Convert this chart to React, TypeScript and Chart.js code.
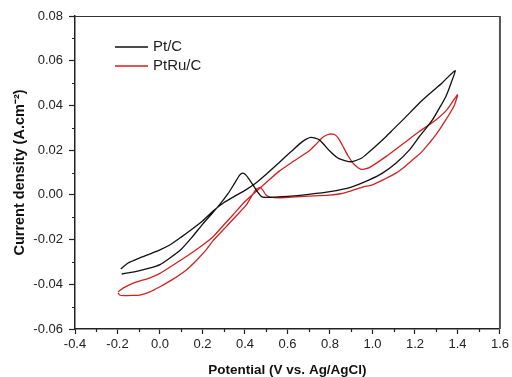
import React, { useEffect, useRef } from 'react';
import { Chart, registerables } from 'chart.js';

Chart.register(...registerables);

const seriesLabels = ['Pt/C', 'PtRu/C'];
const seriesColors = ['#111111', '#d42020'];

const xTitle = 'Potential (V vs. Ag/AgCl)';
const yTitle = 'Current density (A.cm\u207B\u00B2)';

// Pt/C loop (forward then backward)
const ptcX = [
  -0.185, -0.15, -0.1, -0.05, 0.0, 0.05, 0.1, 0.15, 0.2, 0.25, 0.3, 0.35, 0.4, 0.45, 0.5, 0.56, 0.62, 0.67, 0.71, 0.75,
  0.8, 0.84, 0.9, 0.95, 0.985, 1.02, 1.063, 1.1, 1.15, 1.22, 1.27, 1.33, 1.389,
  1.37, 1.345, 1.31, 1.282, 1.25, 1.22, 1.173, 1.11, 1.047, 0.985, 0.9, 0.8, 0.7, 0.6, 0.52, 0.48, 0.46, 0.43, 0.405,
  0.39, 0.375, 0.35, 0.32, 0.28, 0.25, 0.2, 0.15, 0.1, 0.05, 0.0, -0.05, -0.1, -0.15, -0.18,
];
const ptcY = [
  -0.0331, -0.0305, -0.0284, -0.0265, -0.0246, -0.0222, -0.0189, -0.0154, -0.0117, -0.0072, -0.0035, -0.0007, 0.002,
  0.0052, 0.0092, 0.0144, 0.0196, 0.0238, 0.0257, 0.0246, 0.0195, 0.0163, 0.0148, 0.0165, 0.0193, 0.0222, 0.026, 0.0295,
  0.0342, 0.041, 0.0453, 0.0503, 0.0556,
  0.05, 0.0439, 0.038, 0.0335, 0.0295, 0.026, 0.02, 0.0141, 0.0097, 0.0067, 0.0035, 0.0014, 0.0002, -0.0007, -0.0011,
  -0.0009, 0.0012, 0.0055, 0.0088, 0.0097, 0.0088, 0.005, 0.0005, -0.0045, -0.0078, -0.0132, -0.019, -0.0243, -0.028,
  -0.0312, -0.0328, -0.034, -0.0349, -0.0354,
];

// PtRu/C loop (forward then backward)
const ptruX = [
  -0.197, -0.17, -0.126, -0.05, 0.0, 0.06, 0.124, 0.19, 0.25, 0.3, 0.343, 0.4, 0.44, 0.5, 0.56, 0.62, 0.7, 0.73, 0.766,
  0.797, 0.825, 0.845, 0.865, 0.885, 0.91, 0.946, 0.985, 1.063, 1.157, 1.22, 1.298, 1.35, 1.4,
  1.385, 1.345, 1.3, 1.267, 1.23, 1.188, 1.15, 1.11, 1.06, 1.0, 0.954, 0.9, 0.85, 0.797, 0.7, 0.62, 0.56, 0.52, 0.5,
  0.485, 0.472, 0.455, 0.435, 0.41, 0.375, 0.312, 0.25, 0.218, 0.17, 0.124, 0.06, 0.0, -0.05, -0.095, -0.13, -0.17,
  -0.19, -0.197,
];
const ptruY = [
  -0.0433, -0.0415, -0.0395, -0.0372, -0.0351, -0.0315, -0.0276, -0.0232, -0.0187, -0.0135, -0.009, -0.003, 0.0005,
  0.0055, 0.0105, 0.0145, 0.0195, 0.0222, 0.0258, 0.0272, 0.0268, 0.0245, 0.021, 0.0175, 0.014, 0.0114, 0.0122, 0.0171,
  0.0238, 0.0283, 0.0335, 0.038, 0.0447,
  0.04, 0.0335, 0.027, 0.0231, 0.019, 0.0156, 0.0125, 0.0097, 0.0072, 0.0045, 0.0035, 0.0018, 0.0005, -0.0001, -0.0006,
  -0.001, -0.0013, -0.001, -0.0002, 0.002, 0.0033, 0.0026, 0.0, -0.004, -0.0078, -0.0142, -0.0205, -0.0245, -0.0295,
  -0.0336, -0.0378, -0.0411, -0.0435, -0.0448, -0.045, -0.0451, -0.0448, -0.0438,
];

const xMin = -0.4;
const xMax = 1.6;
const xStep = 0.2;
const yMin = -0.06;
const yMax = 0.08;
const yStep = 0.02;

const fmt = (v: number, d: number) => (Math.abs(v) < 1e-9 ? 0 : v).toFixed(d);

const framePlugin = {
  id: 'frameMinorLegend',
  afterDraw(chart: any) {
    const { ctx, chartArea } = chart;
    const { left, right, top, bottom } = chartArea;
    const xs = chart.scales.x;
    const ys = chart.scales.y;
    ctx.save();
    // top border
    ctx.strokeStyle = '#333333';
    ctx.lineWidth = 1;
    ctx.beginPath();
    ctx.moveTo(left, top + 0.5);
    ctx.lineTo(right, top + 0.5);
    ctx.stroke();
    // right border
    ctx.strokeStyle = '#555555';
    ctx.lineWidth = 2;
    ctx.beginPath();
    ctx.moveTo(right, top);
    ctx.lineTo(right, bottom);
    ctx.stroke();
    // minor ticks
    ctx.strokeStyle = '#222222';
    ctx.lineWidth = 1.2;
    ctx.beginPath();
    for (let v = xMin + xStep / 2; v < xMax; v += xStep) {
      const px = Math.round(xs.getPixelForValue(v)) + 0.5;
      ctx.moveTo(px, bottom);
      ctx.lineTo(px, bottom + 3);
    }
    for (let v = yMin + yStep / 2; v < yMax; v += yStep) {
      const py = Math.round(ys.getPixelForValue(v)) + 0.5;
      ctx.moveTo(left, py);
      ctx.lineTo(left - 3, py);
    }
    ctx.stroke();
    // legend
    ctx.font = '15px "Liberation Sans", Arial, sans-serif';
    ctx.textBaseline = 'middle';
    ctx.textAlign = 'left';
    chart.data.datasets.forEach((ds: any, i: number) => {
      const y = 47 + i * 19;
      ctx.strokeStyle = ds.borderColor;
      ctx.lineWidth = 1.3;
      ctx.beginPath();
      ctx.moveTo(115, y);
      ctx.lineTo(148, y);
      ctx.stroke();
      ctx.fillStyle = '#222222';
      ctx.fillText(ds.label, 153, y);
    });
    ctx.restore();
  },
};

export default function App() {
  const ref = useRef<HTMLCanvasElement | null>(null);
  useEffect(() => {
    if (!ref.current) return;
    const datasets = [
      { xs: ptcX, ys: ptcY },
      { xs: ptruX, ys: ptruY },
    ].map((s, i) => ({
      label: seriesLabels[i],
      data: s.xs.map((x, j) => ({ x, y: s.ys[j] })),
      borderColor: seriesColors[i],
      backgroundColor: seriesColors[i],
      borderWidth: 1.3,
      pointRadius: 0,
      showLine: true,
      tension: 0.2,
      fill: false,
    }));
    const chart = new Chart(ref.current, {
      type: 'scatter',
      data: { datasets },
      plugins: [framePlugin],
      options: {
        animation: false,
        responsive: false,
        maintainAspectRatio: false,
        layout: { padding: { left: 0, right: 11, top: 16, bottom: 0 } },
        plugins: { legend: { display: false }, tooltip: { enabled: false } },
        scales: {
          x: {
            type: 'linear',
            min: xMin,
            max: xMax,
            afterFit: (s: any) => {
              s.height = 48;
            },
            ticks: {
              stepSize: xStep,
              autoSkip: false,
              maxRotation: 0,
              padding: 3,
              color: '#222222',
              font: { family: '"Liberation Sans", Arial, sans-serif', size: 13 },
              callback: (v: any) => fmt(Number(v), 1),
            },
            grid: { drawOnChartArea: false, drawTicks: true, tickLength: 5, tickColor: '#222222', tickWidth: 1.2 },
            border: { display: true, color: '#222222', width: 1.5 },
            title: {
              display: true,
              text: xTitle,
              color: '#111111',
              padding: { top: 0, bottom: 0 },
              font: { family: '"Liberation Sans", Arial, sans-serif', size: 13.5, weight: 'bold', lineHeight: 1 },
            },
          },
          y: {
            type: 'linear',
            min: yMin,
            max: yMax,
            afterFit: (s: any) => {
              s.width = 75;
            },
            ticks: {
              stepSize: yStep,
              autoSkip: false,
              padding: 6,
              color: '#222222',
              font: { family: '"Liberation Sans", Arial, sans-serif', size: 13 },
              callback: (v: any) => fmt(Number(v), 2),
            },
            grid: { drawOnChartArea: false, drawTicks: true, tickLength: 6, tickColor: '#222222', tickWidth: 1.2 },
            border: { display: true, color: '#222222', width: 1.5 },
            title: {
              display: true,
              text: yTitle,
              color: '#111111',
              padding: { top: 11, bottom: 0 },
              font: { family: '"Liberation Sans", Arial, sans-serif', size: 14.5, weight: 'bold', lineHeight: 1.2 },
            },
          },
        },
      } as any,
    });
    return () => chart.destroy();
  }, []);
  return (
    <div style={{ position: 'absolute', left: 0, top: 0, width: 512, height: 377, background: '#ffffff' }}>
      <canvas ref={ref} width={512} height={377} style={{ display: 'block', width: 512, height: 377 }} />
    </div>
  );
}
